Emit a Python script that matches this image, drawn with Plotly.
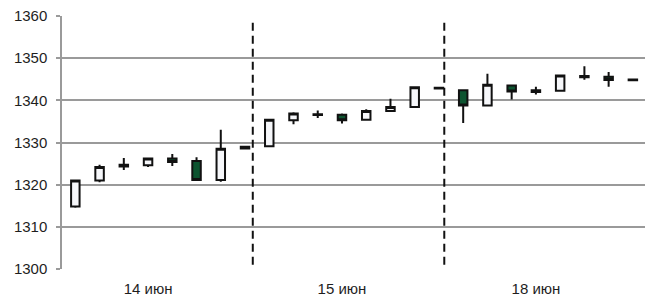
import plotly.graph_objects as go

# --- data ---
idx = list(range(24))
opens  = [1314.8, 1321.0, 1324.7, 1324.6, 1326.2, 1325.6, 1321.1, 1329.0,
          1329.1, 1335.3, 1336.7, 1336.6, 1335.4, 1337.5, 1338.4, 1343.0,
          1342.4, 1338.8, 1343.5, 1342.4, 1342.3, 1345.8, 1345.6, 1344.95]
highs  = [1321.1, 1324.7, 1326.3, 1326.2, 1327.3, 1326.5, 1333.0, 1329.0,
          1335.4, 1337.2, 1337.6, 1336.9, 1337.9, 1340.4, 1343.1, 1343.0,
          1342.4, 1346.3, 1343.5, 1343.2, 1346.1, 1348.1, 1346.7, 1344.95]
lows   = [1314.5, 1320.6, 1323.5, 1324.2, 1324.4, 1321.1, 1320.7, 1328.6,
          1329.1, 1334.3, 1335.8, 1334.5, 1335.4, 1337.5, 1338.4, 1342.8,
          1334.6, 1338.6, 1340.2, 1341.4, 1342.3, 1344.9, 1343.2, 1344.75]
closes = [1321.0, 1324.2, 1324.3, 1326.2, 1325.4, 1321.1, 1328.5, 1328.6,
          1335.4, 1336.9, 1336.5, 1335.3, 1337.5, 1338.4, 1343.1, 1342.8,
          1338.8, 1343.7, 1342.1, 1342.0, 1345.9, 1345.5, 1344.8, 1344.75]
day_labels = ["14 июн", "15 июн", "18 июн"]
day_label_pos = [3, 11, 19]
day_separators = [7.32, 15.22]
y_ticks = [1300, 1310, 1320, 1330, 1340, 1350, 1360]

fig = go.Figure()
fig.add_trace(go.Candlestick(
    x=idx, open=opens, high=highs, low=lows, close=closes,
    increasing=dict(line=dict(color="#111111", width=2), fillcolor="#f6f7fa"),
    decreasing=dict(line=dict(color="#111111", width=2), fillcolor="#0d5430"),
    whiskerwidth=0, hoverinfo="skip", showlegend=False,
))

for sx in day_separators:
    fig.add_shape(type="line", xref="x", yref="y", x0=sx, x1=sx,
                  y0=1301.0, y1=1358.8,
                  line=dict(color="#111111", width=2, dash="8px,5px"))

fig.update_layout(
    width=646, height=289,
    margin=dict(l=54, r=9, t=8, b=28, autoexpand=False),
    paper_bgcolor="white", plot_bgcolor="white",
    boxgap=0.5,
    font=dict(family="Liberation Sans, Arial, sans-serif", size=15, color="#1e1e1e"),
    showlegend=False,
)
fig.update_xaxes(
    range=[-0.55, 23.5], rangeslider=dict(visible=False),
    tickmode="array", tickvals=day_label_pos, ticktext=day_labels,
    ticks="", showgrid=False, zeroline=False, showline=False,
    ticklabelstandoff=9, automargin=False, fixedrange=True,
)
fig.update_yaxes(
    range=[1300, 1360], tickmode="array", tickvals=y_ticks,
    showgrid=True, gridcolor="#9a9a9a", gridwidth=1.5,
    ticks="outside", ticklen=4, tickcolor="#9a9a9a", tickwidth=1.5,
    showline=True, linecolor="#9a9a9a", linewidth=1.5,
    zeroline=False, ticklabelstandoff=6, automargin=False,
    ticklabeloverflow="allow", fixedrange=True,
)

fig.write_html("out.html")
